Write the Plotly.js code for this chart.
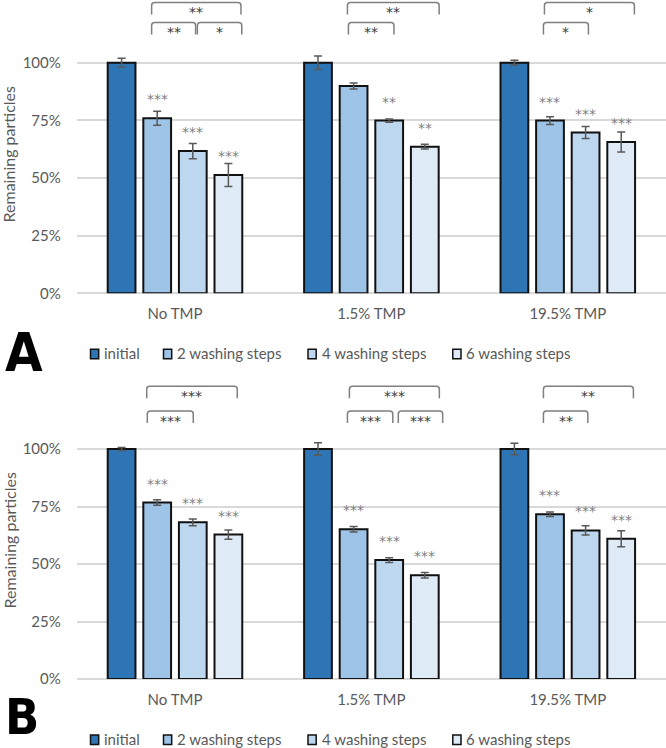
<!DOCTYPE html>
<html><head><meta charset="utf-8">
<script src="https://cdn.plot.ly/plotly-3.0.1.min.js"></script>
<style>html,body{margin:0;padding:0;background:#fff}#chart{width:666px;height:748px}</style>
</head><body><div id="chart"></div>
<script>
// ---------- DATA ----------
const categories = ['No TMP', '1.5% TMP', '19.5% TMP'];
const seriesNames = ['initial', '2 washing steps', '4 washing steps', '6 washing steps'];

// Panel A (fraction of initial)
const aInitial    = [1.000, 1.000, 1.000];
const aInitialErr = [0.019, 0.029, 0.011];
const aWash2      = [0.759, 0.899, 0.749];
const aWash2Err   = [0.030, 0.013, 0.017];
const aWash4      = [0.617, 0.749, 0.697];
const aWash4Err   = [0.033, 0.007, 0.026];
const aWash6      = [0.513, 0.636, 0.656];
const aWash6Err   = [0.050, 0.010, 0.043];
const aSigInitial = ['', '', ''];
const aSigWash2   = ['***', '', '***'];
const aSigWash4   = ['***', '**', '***'];
const aSigWash6   = ['***', '**', '***'];

// Panel B
const bInitial    = [1.000, 1.000, 1.000];
const bInitialErr = [0.006, 0.027, 0.025];
const bWash2      = [0.767, 0.651, 0.716];
const bWash2Err   = [0.012, 0.012, 0.010];
const bWash4      = [0.681, 0.517, 0.646];
const bWash4Err   = [0.015, 0.010, 0.020];
const bWash6      = [0.628, 0.451, 0.610];
const bWash6Err   = [0.020, 0.012, 0.035];
const bSigInitial = ['', '', ''];
const bSigWash2   = ['***', '***', '***'];
const bSigWash4   = ['***', '***', '***'];
const bSigWash6   = ['***', '***', '***'];

// Pairwise comparison brackets: [category index, from offset, to offset, row (0 = upper, 1 = lower), label]
const aBrackets = [
  [0, -0.119, 0.336, 0, '**'],
  [0, -0.119, 0.105, 1, '**'],
  [0,  0.114, 0.340, 1, '*'],
  [1, -0.122, 0.345, 0, '**'],
  [1, -0.117, 0.115, 1, '**'],
  [2, -0.119, 0.339, 0, '*'],
  [2, -0.124, 0.105, 1, '*']
];
const bBrackets = [
  [0, -0.144, 0.317, 0, '***'],
  [0, -0.141, 0.093, 1, '***'],
  [1, -0.112, 0.346, 0, '***'],
  [1, -0.122, 0.109, 1, '***'],
  [1,  0.137, 0.363, 1, '***'],
  [2, -0.124, 0.334, 0, '**'],
  [2, -0.124, 0.102, 1, '**']
];

// ---------- STYLE ----------
const W = 666, H = 748;
const colors = ['#2e75b6', '#9dc3e6', '#bdd7ee', '#deebf7'];
const textGray = '#595959';
const BARGAP = 0.275, GROUPGAP = 0.22;
const FONT = 'Lato, "Open Sans", sans-serif';
const STARFONT = '"DejaVu Sans", "Liberation Sans", sans-serif';

const panels = [
  { xa: 'x',  ya: 'y',  vals: [aInitial, aWash2, aWash4, aWash6], errs: [aInitialErr, aWash2Err, aWash4Err, aWash6Err],
    sig: [aSigInitial, aSigWash2, aSigWash4, aSigWash6], brackets: aBrackets,
    ydom: [(H - 293.3) / H, (H - 16.6) / H], brTop: [2.5, 22.5], letter: 'A', dy: 0, letterY: 352, letterSize: 54 },
  { xa: 'x2', ya: 'y2', vals: [bInitial, bWash2, bWash4, bWash6], errs: [bInitialErr, bWash2Err, bWash4Err, bWash6Err],
    sig: [bSigInitial, bSigWash2, bSigWash4, bSigWash6], brackets: bBrackets,
    ydom: [(H - 679) / H, (H - 403) / H], brTop: [386.3, 411], letter: 'B', dy: 385.7, letterY: 717, letterSize: 50 }
];

const traces = [];
const annotations = [];
const shapes = [];
const py = px => (H - px) / H;   // pixel row -> paper y
const pxx = px => px / W;        // pixel col -> paper x

const slot = (1 - BARGAP) / seriesNames.length;
const barOffset = k => -(1 - BARGAP) / 2 + (k + 0.5) * slot;

panels.forEach((p, pi) => {
  seriesNames.forEach((name, k) => {
    traces.push({
      type: 'bar', x: categories, y: p.vals[k], name: name,
      xaxis: p.xa, yaxis: p.ya, showlegend: false,
      marker: { color: colors[k], line: { color: '#111', width: 2 } },
      error_y: { type: 'data', array: p.errs[k], visible: true, color: '#595959', thickness: 1.5, width: 4 },
      hovertemplate: '%{x}<br>' + name + ': %{y:.0%}<extra></extra>'
    });
    // significance vs initial, above each bar
    p.sig[k].forEach((s, i) => {
      if (!s) return;
      annotations.push({
        xref: p.xa, yref: p.ya, x: i + barOffset(k), y: p.vals[k][i],
        text: s, showarrow: false, yanchor: 'middle', xanchor: 'center', yshift: 19,
        font: { size: 14, color: '#7f7f7f', family: STARFONT }
      });
    });
  });

  // brackets
  const rx = 3 / 196.35, ry = 3 / H, leg = 12 / H;
  p.brackets.forEach(b => {
    const [ci, o0, o1, row, lab] = b;
    const x0 = ci + o0, x1 = ci + o1;
    const yt = py(p.brTop[row]);
    const yb = yt - leg;
    shapes.push({
      type: 'path', xref: p.xa, yref: 'paper',
      path: `M${x0},${yb} L${x0},${yt - ry} Q${x0},${yt} ${x0 + rx},${yt} L${x1 - rx},${yt} Q${x1},${yt} ${x1},${yt - ry} L${x1},${yb}`,
      line: { color: '#7f7f7f', width: 1.5 }
    });
    annotations.push({
      xref: p.xa, yref: 'paper', x: (x0 + x1) / 2, y: yt, yshift: -10,
      text: lab, showarrow: false, xanchor: 'center', yanchor: 'middle',
      font: { size: 14, color: '#3a3a3a', family: STARFONT }
    });
  });

  // y-axis title
  annotations.push({
    xref: 'paper', yref: 'paper', x: pxx(8.5), y: (p.ydom[0] + p.ydom[1]) / 2,
    text: 'Remaining particles', textangle: -90, showarrow: false,
    xanchor: 'center', yanchor: 'middle', font: { size: 16, color: textGray, family: FONT }
  });

  // panel letter
  annotations.push({
    xref: 'paper', yref: 'paper', x: pxx(2.5), y: py(p.letterY),
    text: '<b>' + p.letter + '</b>', showarrow: false, xanchor: 'left', yanchor: 'middle',
    font: { size: p.letterSize, color: '#000', family: '"DejaVu Sans Condensed", "Liberation Sans Narrow", "Liberation Sans", sans-serif' }
  });

  // legend (swatches + labels)
  const swX = [90.5, 163.5, 308, 452.8];
  seriesNames.forEach((name, k) => {
    shapes.push({
      type: 'rect', xref: 'paper', yref: 'paper',
      x0: pxx(swX[k]), x1: pxx(swX[k] + 8.2), y0: py(349.3 + p.dy), y1: py(358.7 + p.dy),
      fillcolor: colors[k], line: { color: '#111', width: 1.5 }
    });
    annotations.push({
      xref: 'paper', yref: 'paper', x: pxx(swX[k] + 11.5), y: py(353.5 + p.dy),
      text: name, showarrow: false, xanchor: 'left', yanchor: 'middle',
      font: { size: 15, color: textGray, family: FONT }
    });
  });
});

const xBase = {
  type: 'category', domain: [0.1153, 1], range: [-0.5, 2.5],
  showgrid: false, zeroline: false, showline: false, ticks: '',
  tickfont: { size: 15, color: textGray, family: FONT }, ticklabelstandoff: 10, fixedrange: true
};
const yBase = {
  range: [0, 1.2], tick0: 0, dtick: 0.25, tickformat: '.0%',
  gridcolor: '#d9d9d9', gridwidth: 2, zeroline: true, zerolinecolor: '#d9d9d9', zerolinewidth: 2,
  showline: false, ticks: '', tickfont: { size: 15, color: textGray, family: FONT },
  ticklabelstandoff: 15, fixedrange: true
};

const layout = {
  width: W, height: H, margin: { l: 0, r: 0, t: 0, b: 0 },
  paper_bgcolor: '#fff', plot_bgcolor: 'rgba(0,0,0,0)',
  font: { family: FONT, color: textGray },
  barmode: 'group', bargap: BARGAP, bargroupgap: GROUPGAP, showlegend: false,
  xaxis:  Object.assign({}, xBase, { anchor: 'y' }),
  yaxis:  Object.assign({}, yBase, { anchor: 'x', domain: panels[0].ydom }),
  xaxis2: Object.assign({}, xBase, { anchor: 'y2' }),
  yaxis2: Object.assign({}, yBase, { anchor: 'x2', domain: panels[1].ydom }),
  shapes: shapes, annotations: annotations
};

Plotly.newPlot('chart', traces, layout, { displayModeBar: false, staticPlot: true });
</script></body></html>
